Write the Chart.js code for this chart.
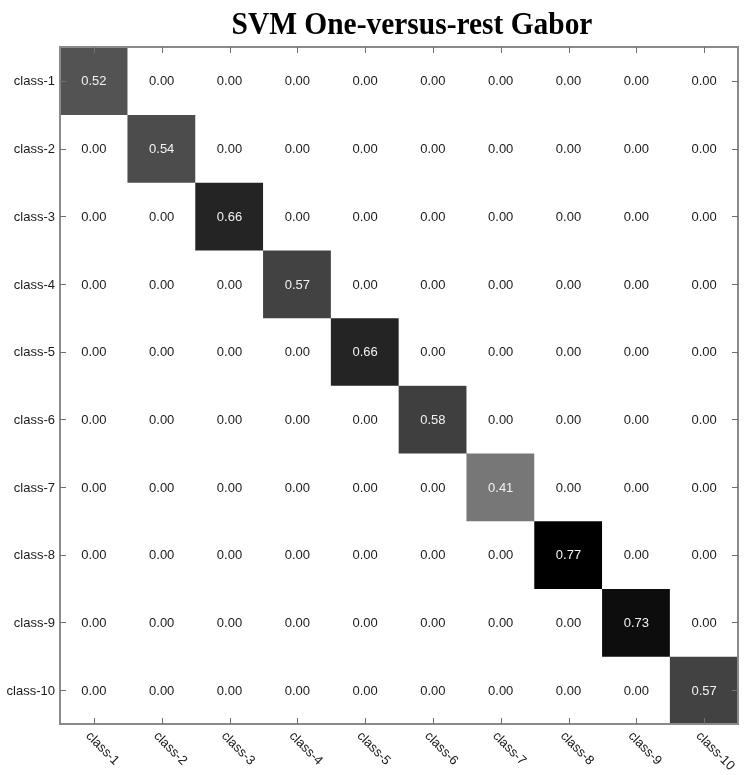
<!DOCTYPE html>
<html>
<head>
<meta charset="utf-8">
<script src="https://cdn.jsdelivr.net/npm/chart.js@4/dist/chart.umd.min.js"></script>
<style>
html,body{margin:0;padding:0;background:#fff;}
#wrap{width:755px;height:775px;}
</style>
</head>
<body>
<div id="wrap"><canvas id="c" width="755" height="775"></canvas></div>
<script>
const titleText = "SVM One-versus-rest Gabor";
const classes = ["class-1","class-2","class-3","class-4","class-5","class-6","class-7","class-8","class-9","class-10"];
const rowPositions = [1,2,3,4,5,6,7,8,9,10];
const matrix = [
  [0.52,0,0,0,0,0,0,0,0,0],
  [0,0.54,0,0,0,0,0,0,0,0],
  [0,0,0.66,0,0,0,0,0,0,0],
  [0,0,0,0.57,0,0,0,0,0,0],
  [0,0,0,0,0.66,0,0,0,0,0],
  [0,0,0,0,0,0.58,0,0,0,0],
  [0,0,0,0,0,0,0.41,0,0,0],
  [0,0,0,0,0,0,0,0.77,0,0],
  [0,0,0,0,0,0,0,0,0.73,0],
  [0,0,0,0,0,0,0,0,0,0.57]
];

const vmax = Math.max(...matrix.flat());
function cellColor(v){
  const g = Math.round(255*(1 - v/vmax));
  return `rgb(${g},${g},${g})`;
}

const datasets = matrix.map((row, i) => ({
  label: classes[i],
  data: row.map(() => [rowPositions[i]-0.5, rowPositions[i]+0.5]),
  backgroundColor: row.map(v => cellColor(v)),
  borderWidth: 0,
  grouped: false,
  barPercentage: 1,
  categoryPercentage: 1
}));

const FONT = '"Liberation Sans", Arial, sans-serif';

const decor = {
  id: 'decor',
  afterDraw(chart){
    const ctx = chart.ctx;
    const a = chart.chartArea;
    const xs = chart.scales.x, ys = chart.scales.y;
    ctx.save();
    // cell values
    ctx.font = '13px ' + FONT;
    ctx.textAlign = 'center';
    ctx.textBaseline = 'middle';
    matrix.forEach((row, i) => {
      row.forEach((v, j) => {
        const x = xs.getPixelForValue(j);
        const y = ys.getPixelForValue(rowPositions[i]);
        ctx.fillStyle = v > 0.2 ? '#f2f2f2' : '#1a1a1a';
        ctx.fillText(v.toFixed(2), x, y + 1);
      });
    });
    // frame
    ctx.strokeStyle = '#8a8a8a';
    ctx.lineWidth = 2;
    ctx.strokeRect(a.left, a.top, a.right - a.left, a.bottom - a.top);
    // ticks
    ctx.strokeStyle = '#707070';
    ctx.lineWidth = 1;
    const tl = 6;
    classes.forEach((c, j) => {
      const x = Math.round(xs.getPixelForValue(j)) + 0.5;
      ctx.beginPath();
      ctx.moveTo(x, a.top); ctx.lineTo(x, a.top + tl);
      ctx.moveTo(x, a.bottom); ctx.lineTo(x, a.bottom - tl);
      ctx.stroke();
    });
    rowPositions.forEach(r => {
      const y = Math.round(ys.getPixelForValue(r)) + 0.5;
      ctx.beginPath();
      ctx.moveTo(a.left, y); ctx.lineTo(a.left + tl, y);
      ctx.moveTo(a.right, y); ctx.lineTo(a.right - tl, y);
      ctx.stroke();
    });
    // y labels
    ctx.fillStyle = '#1a1a1a';
    ctx.font = '13px ' + FONT;
    ctx.textAlign = 'right';
    ctx.textBaseline = 'middle';
    rowPositions.forEach((r, i) => {
      ctx.fillText(classes[i], a.left - 5, ys.getPixelForValue(r) + 1);
    });
    // x labels rotated
    ctx.textAlign = 'left';
    classes.forEach((c, j) => {
      const x = xs.getPixelForValue(j);
      ctx.save();
      ctx.translate(x - 6, a.bottom + 10);
      ctx.rotate(Math.PI/4);
      ctx.fillText(c, 0, 0);
      ctx.restore();
    });
    // title
    ctx.fillStyle = '#000';
    ctx.font = 'bold 32px "Liberation Serif", "Times New Roman", serif';
    ctx.textAlign = 'center';
    ctx.textBaseline = 'alphabetic';
    ctx.save();
    ctx.translate(412, 34);
    ctx.scale(0.92, 1);
    ctx.fillText(titleText, 0, 0);
    ctx.restore();
    ctx.restore();
  }
};

new Chart(document.getElementById('c'), {
  type: 'bar',
  data: { labels: classes, datasets },
  options: {
    responsive: false,
    animation: false,
    layout: { padding: { left: 60, right: 17, top: 47, bottom: 51 } },
    plugins: { legend: { display: false }, tooltip: { enabled: false }, title: { display: false } },
    scales: {
      x: { type: 'category', display: false, offset: true },
      y: { type: 'linear', display: false, min: 0.5, max: 10.5, reverse: true }
    }
  },
  plugins: [decor]
});
</script>
</body>
</html>
